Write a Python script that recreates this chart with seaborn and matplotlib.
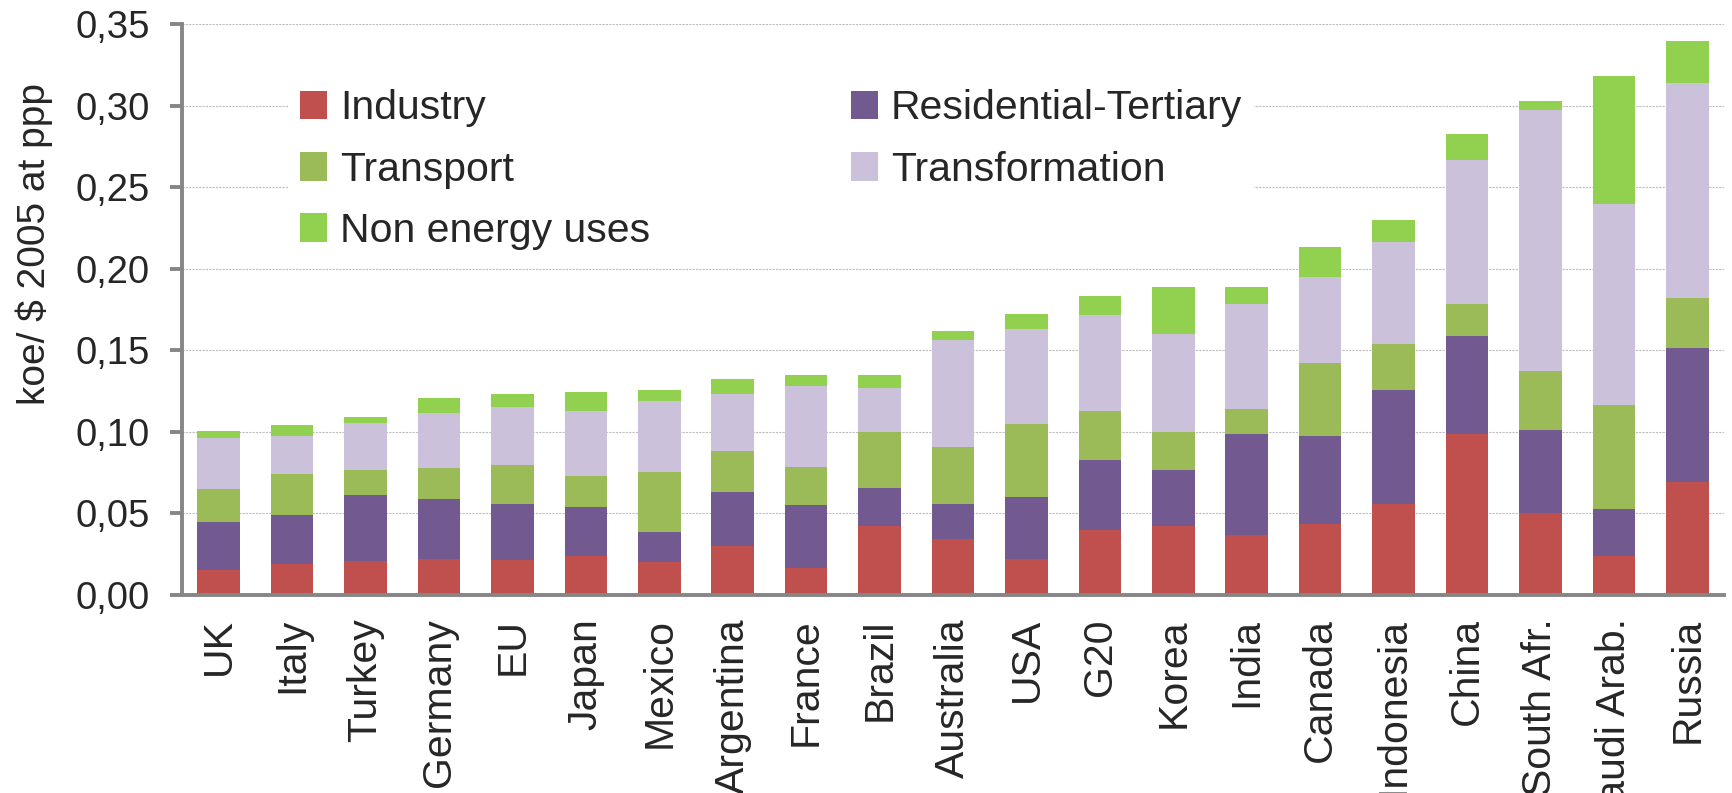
import numpy as np
import pandas as pd
import seaborn as sns
import matplotlib.pyplot as plt
from matplotlib.patches import Patch
from matplotlib.ticker import FuncFormatter

countries = ["UK", "Italy", "Turkey", "Germany", "EU", "Japan", "Mexico", "Argentina",
             "France", "Brazil", "Australia", "USA", "G20", "Korea", "India", "Canada",
             "Indonesia", "China", "South Afr.", "Saudi Arab.", "Russia"]

industry = [0.0150, 0.0186, 0.0205, 0.0217, 0.0211, 0.0236, 0.0199, 0.0301, 0.0161, 0.0419, 0.0339,
            0.0217, 0.0394, 0.0419, 0.0363, 0.0432, 0.0559, 0.0984, 0.0500, 0.0236, 0.0689]
residential = [0.0295, 0.0302, 0.0404, 0.0367, 0.0348, 0.0301, 0.0183, 0.0326, 0.0386, 0.0233, 0.0220,
               0.0379, 0.0435, 0.0345, 0.0621, 0.0540, 0.0696, 0.0603, 0.0509, 0.0289, 0.0823]
transport = [0.0202, 0.0251, 0.0155, 0.0192, 0.0236, 0.0190, 0.0370, 0.0252, 0.0236, 0.0345, 0.0345,
             0.0451, 0.0295, 0.0233, 0.0153, 0.0447, 0.0282, 0.0196, 0.0361, 0.0636, 0.0308]
transformation = [0.0317, 0.0233, 0.0286, 0.0336, 0.0354, 0.0397, 0.0434, 0.0351, 0.0497, 0.0270, 0.0658,
                  0.0580, 0.0590, 0.0603, 0.0646, 0.0528, 0.0628, 0.0885, 0.1605, 0.1237, 0.1320]
non_energy = [0.0040, 0.0068, 0.0037, 0.0093, 0.0081, 0.0118, 0.0069, 0.0093, 0.0068, 0.0081, 0.0056,
              0.0093, 0.0118, 0.0288, 0.0105, 0.0187, 0.0133, 0.0158, 0.0053, 0.0785, 0.0258]

sectors = ["Industry", "Residential-Tertiary", "Transport", "Transformation", "Non energy uses"]
colors = ["#C0504D", "#72598F", "#9BBB59", "#CCC1DA", "#92D050"]

df = pd.DataFrame({"country": countries, "Industry": industry, "Residential-Tertiary": residential,
                   "Transport": transport, "Transformation": transformation,
                   "Non energy uses": non_energy})

sns.set_style("white")
plt.rcParams['font.family'] = ['Liberation Sans', 'DejaVu Sans']

fig = plt.figure(figsize=(17.33, 7.93), dpi=100)
ax = fig.add_axes([0.105, 0.2502, 0.8898, 0.7192])

# stacked bars: draw cumulative totals, tallest first
cum = df[sectors].cumsum(axis=1)
for s, c in reversed(list(zip(sectors, colors))):
    sns.barplot(x=df["country"], y=cum[s], color=c, saturation=1, width=0.58,
                errorbar=None, linewidth=0, ax=ax, zorder=2)

ax.set_xlim(-0.5, len(countries) - 0.5)
ax.set_ylim(0, 0.35)
ax.set_yticks(np.arange(0, 0.351, 0.05))
ax.yaxis.set_major_formatter(FuncFormatter(lambda v, p: f"{v:.2f}".replace(".", ",")))
ax.set_xlabel("")
ax.set_ylabel("")

ax.yaxis.grid(True, color="#BFBFBF", linestyle=(0, (2, 1)), linewidth=0.8)
ax.set_axisbelow(True)

for side in ["top", "right"]:
    ax.spines[side].set_visible(False)
for side in ["left", "bottom"]:
    ax.spines[side].set_color("#868686")
    ax.spines[side].set_linewidth(2.8)

ax.set_xticks(np.arange(-0.5, len(countries)), minor=True)
ax.tick_params(axis="x", which="major", length=0, pad=17, labelsize=29.5, labelrotation=90)
ax.tick_params(axis="x", which="minor", length=9, width=2.8, color="#868686", direction="out")
ax.tick_params(axis="y", length=9, width=2.8, color="#868686", direction="out", pad=14, labelsize=27.5,
               left=True)
for lab in ax.get_xticklabels():
    lab.set_verticalalignment("top")

fig.text(0.0195, 1 - 244 / 793, "koe/ $ 2005 at ppp", rotation=90, ha="center", va="center", fontsize=28)

order = ["Industry", "Transport", "Non energy uses", "Residential-Tertiary", "Transformation"]
handles = [Patch(facecolor=colors[sectors.index(s)], edgecolor="none", label=s) for s in order]
ax.legend(handles=handles, ncol=2, loc="upper left", bbox_to_anchor=(288 / 1733, 1 - 77 / 793),
          bbox_transform=fig.transFigure, fontsize=29.5, frameon=True, facecolor="white",
          edgecolor="none", fancybox=False, framealpha=1, borderpad=0.3, borderaxespad=0,
          handlelength=0.65, handleheight=0.7, handletextpad=0.32, labelspacing=0.57,
          columnspacing=4.9)

fig.savefig("out.png", dpi=100)
